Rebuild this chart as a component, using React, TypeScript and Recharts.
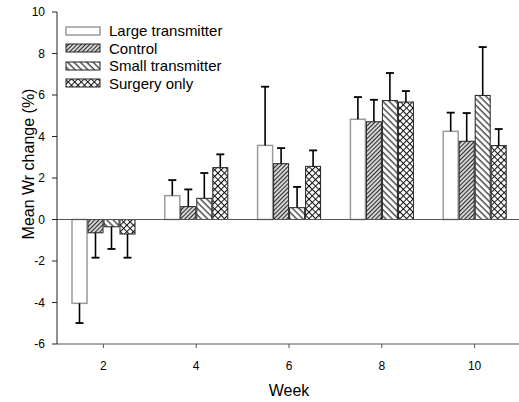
import React from "react";
import { BarChart, Bar, XAxis, YAxis, ReferenceLine, Label } from "recharts";

const weeks = ["2", "4", "6", "8", "10"];
const largeTx = [-4.04, 1.15, 3.57, 4.83, 4.25];
const largeTxErr = [0.95, 0.75, 2.83, 1.07, 0.9];
const control = [-0.64, 0.62, 2.69, 4.71, 3.77];
const controlErr = [1.2, 0.83, 0.75, 1.06, 1.36];
const smallTx = [-0.35, 1.02, 0.57, 5.73, 5.98];
const smallTxErr = [1.07, 1.22, 1.0, 1.33, 2.33];
const surgery = [-0.7, 2.5, 2.56, 5.66, 3.56];
const surgeryErr = [1.14, 0.64, 0.77, 0.53, 0.8];
const yTicks = [-6, -4, -2, 0, 2, 4, 6, 8, 10];

const data = weeks.map((w, i) => ({
  week: w,
  large: largeTx[i],
  largeE: largeTxErr[i],
  control: control[i],
  controlE: controlErr[i],
  small: smallTx[i],
  smallE: smallTxErr[i],
  surgery: surgery[i],
  surgeryE: surgeryErr[i],
}));

const series = [
  { key: "large", err: "largeE", name: "Large transmitter", fill: "#ffffff", stroke: "#9a9a9a", sw: 1.5 },
  { key: "control", err: "controlE", name: "Control", fill: "url(#patControl)", stroke: "#222", sw: 1 },
  { key: "small", err: "smallE", name: "Small transmitter", fill: "url(#patSmall)", stroke: "#222", sw: 1 },
  { key: "surgery", err: "surgeryE", name: "Surgery only", fill: "url(#patSurgery)", stroke: "#222", sw: 1 },
];

const FONT = "Arial, 'Liberation Sans', sans-serif";

// Bar shape with a one-sided error bar; pixel length from the bar's own scale (height / |value|)
const makeShape = (s: any) => (props: any) => {
  const { x, y, width, height, payload } = props;
  const v = payload[s.key] as number;
  const e = payload[s.err] as number;
  const top = Math.min(y, y + height);
  const h = Math.abs(height);
  const pxPerUnit = h / Math.abs(v);
  const cx = x + width / 2;
  const endY = v >= 0 ? top : top + h;
  const tipY = v >= 0 ? endY - e * pxPerUnit : endY + e * pxPerUnit;
  return (
    <g>
      <rect x={x} y={top} width={width} height={h} fill={s.fill} stroke={s.stroke} strokeWidth={s.sw} />
      <line x1={cx} y1={endY} x2={cx} y2={tipY} stroke="#000" strokeWidth={1.6} />
      <line x1={cx - 4} y1={tipY} x2={cx + 4} y2={tipY} stroke="#000" strokeWidth={1.8} />
    </g>
  );
};

const LegendBox = () => (
  <div
    style={{
      position: "absolute",
      left: 65,
      top: 22,
      fontFamily: FONT,
      fontSize: 15,
      color: "#000",
      lineHeight: "17.5px",
    }}
  >
    {series.map((s) => (
      <div key={s.key} style={{ display: "flex", alignItems: "center", height: 17.5 }}>
        <svg width={36} height={10} style={{ display: "block" }}>
          <rect x={1} y={1} width={34} height={8} fill={s.fill} stroke={s.stroke} strokeWidth={s.sw} />
        </svg>
        <span style={{ marginLeft: 8, whiteSpace: "nowrap" }}>{s.name}</span>
      </div>
    ))}
  </div>
);

export default function App() {
  return (
    <div style={{ position: "absolute", left: 0, top: 0, width: 519, height: 402, overflow: "hidden", background: "#fff" }}>
      <svg width={0} height={0} style={{ position: "absolute" }}>
        <defs>
          <pattern id="patControl" patternUnits="userSpaceOnUse" width={3} height={3} patternTransform="rotate(45)">
            <rect width={3} height={3} fill="#d8d8d8" />
            <line x1={0.5} y1={0} x2={0.5} y2={3} stroke="#2a2a2a" strokeWidth={1.1} />
          </pattern>
          <pattern id="patSmall" patternUnits="userSpaceOnUse" width={4.5} height={4.5} patternTransform="rotate(-45)">
            <rect width={4.5} height={4.5} fill="#fff" />
            <line x1={1} y1={0} x2={1} y2={4.5} stroke="#111" strokeWidth={1.1} />
          </pattern>
          <pattern id="patSurgery" patternUnits="userSpaceOnUse" width={4.6} height={4.6} patternTransform="rotate(45)">
            <rect width={4.6} height={4.6} fill="#fff" />
            <line x1={0.5} y1={0} x2={0.5} y2={4.6} stroke="#111" strokeWidth={1} />
            <line x1={0} y1={0.5} x2={4.6} y2={0.5} stroke="#111" strokeWidth={1} />
          </pattern>
        </defs>
      </svg>
      <BarChart
        width={522}
        height={402}
        data={data}
        margin={{ top: 12, right: 1, bottom: 8, left: 0 }}
        barSize={15}
        barGap={1}
      >
        <XAxis
          dataKey="week"
          height={50}
          tickSize={4}
          tickMargin={13}
          axisLine={{ stroke: "#555" }}
          tickLine={{ stroke: "#555" }}
          tick={{ fill: "#000", fontSize: 12, fontFamily: FONT }}
        >
          <Label
            content={({ viewBox }: any) => (
              <text
                x={viewBox.x + viewBox.width / 2}
                y={viewBox.y + 52}
                textAnchor="middle"
                fontSize={16}
                fontFamily={FONT}
                fill="#000"
              >
                Week
              </text>
            )}
          />
        </XAxis>
        <YAxis
          width={57}
          domain={[-6, 10]}
          ticks={yTicks}
          interval={0}
          tickSize={5}
          tickMargin={7}
          axisLine={{ stroke: "#222" }}
          tickLine={{ stroke: "#222" }}
          tick={{ fill: "#000", fontSize: 12, fontFamily: FONT }}
        >
          <Label
            content={({ viewBox }: any) => {
              const cx = 28;
              const cy = viewBox.y + viewBox.height / 2 - 14;
              return (
                <text
                  x={cx}
                  y={cy}
                  transform={`rotate(-90 ${cx} ${cy})`}
                  textAnchor="middle"
                  dominantBaseline="central"
                  fontSize={16}
                  fontFamily={FONT}
                  fill="#000"
                >
                  Mean Wr change (%)
                </text>
              );
            }}
          />
        </YAxis>
        <ReferenceLine y={0} stroke="#555" strokeWidth={1} />
        {series.map((s) => (
          <Bar
            key={s.key}
            dataKey={s.key}
            name={s.name}
            fill={s.fill}
            stroke={s.stroke}
            strokeWidth={s.sw}
            shape={makeShape(s)}
            isAnimationActive={false}
          />
        ))}
      </BarChart>
      <LegendBox />
    </div>
  );
}
